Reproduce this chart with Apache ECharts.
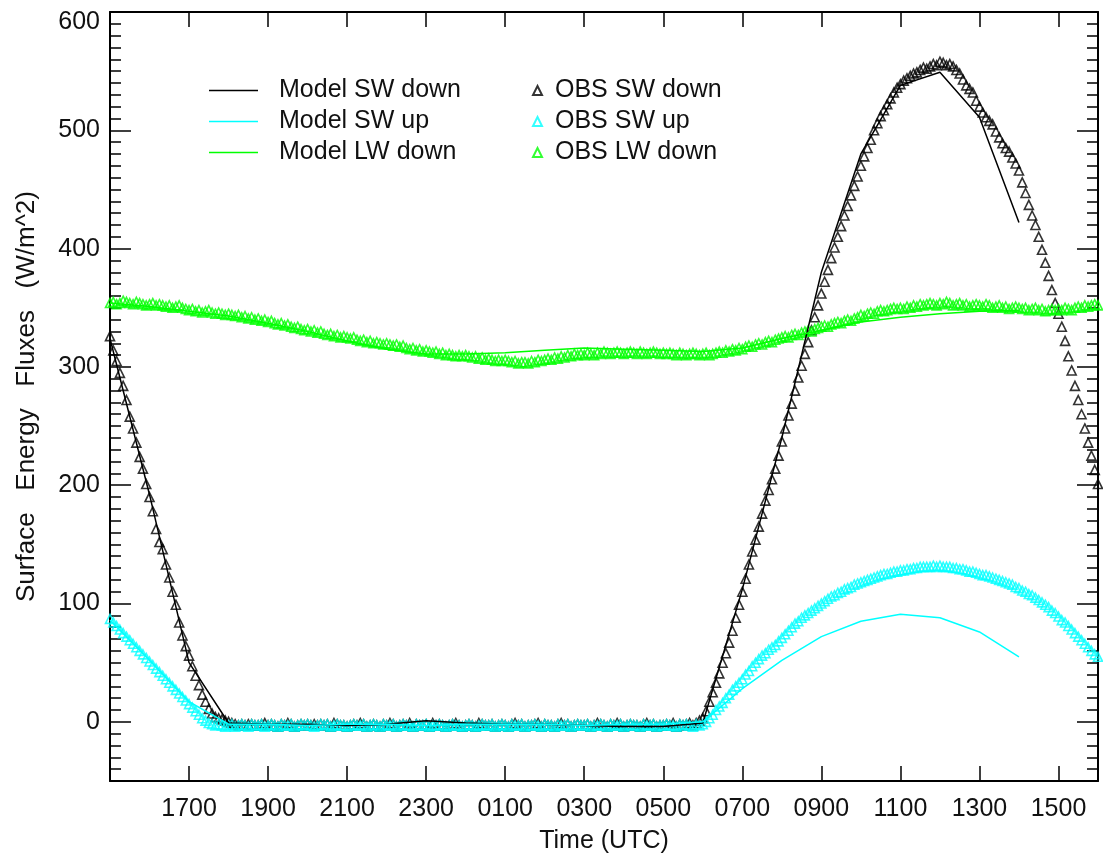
<!DOCTYPE html>
<html><head><meta charset="utf-8">
<script src="https://cdn.jsdelivr.net/npm/echarts@6/dist/echarts.min.js"></script>
<style>html,body{margin:0;padding:0;background:#fff}#c{width:1103px;height:860px}</style>
</head><body><div id="c"></div>
<script>
// x values are hours after 1500 UTC (day 1); axis spans 1500 -> 1600 next day
const OBS_START_HOUR = 0;
const OBS_STEP_MIN = 5;

const obsSwDown = [
 326,314,305,295,284,272,258,248,236,224,214,201,
 190,178,163,152,146,133,122,110,99,84,73,64,
 56,47,39,31,23,17,11,7,4,3,2,1,
 0,-1,-2,-3,-2,-3,-2,-2,-3,-3,-2,-1,
 -3,-2,-3,-4,-2,-3,-1,-2,-4,-3,-2,-3,
 -2,-3,-2,-3,-2,-3,-2,-4,-1,-2,-3,-3,
 -4,-3,-2,-3,-1,-2,-4,-3,-2,-3,-4,-2,
 -3,-1,-2,-4,-3,-2,-3,-1,-4,-2,-3,-3,
 -2,-4,-1,-3,-2,-3,-4,-3,-2,-1,-3,-4,
 -3,-2,-3,-4,-1,-2,-3,-3,-2,-4,-3,-2,
 -3,-4,-2,-1,-3,-2,-4,-3,-3,-2,-1,-4,
 -2,-3,-3,-4,-2,-1,-3,-2,-4,-3,-2,-3,
 -3,-2,-4,-3,-1,-2,-3,-4,-2,-3,-1,-2,
 -4,-3,-2,-3,-3,-4,-2,-1,-3,-2,-4,-3,
 -3,-2,-3,-1,-4,-2,-3,-2,-1,-3,-1,1,
 3,9,17,25,33,41,50,58,67,77,88,99,
 110,121,133,144,154,165,176,187,196,205,214,225,
 237,248,259,269,280,291,301,311,321,331,342,352,
 362,372,382,392,401,410,419,428,436,445,453,461,
 470,478,485,492,500,506,512,517,522,527,532,536,
 539,542,544,546,548,549,551,553,552,554,556,555,
 558,557,555,556,554,551,548,543,538,535,532,525,
 520,515,511,508,505,499,494,489,485,482,477,472,
 466,456,447,437,428,420,410,399,388,377,365,354,
 345,334,322,309,297,284,272,260,248,236,225,213,
 201
];

const obsSwUp = [
 87,84,81,78,75,72,69,66,63,60,57,54,
 51,48,45,42,39,36,33,30,27,24,21,18,
 15,12,9,6,3,1,-1,-2,-3,-2,-3,-4,
 -3,-2,-4,-3,-2,-3,-4,-2,-3,-3,-2,-4,
 -3,-2,-3,-4,-2,-3,-3,-2,-4,-3,-2,-3,
 -2,-3,-4,-3,-2,-3,-2,-4,-3,-2,-3,-3,
 -4,-3,-2,-3,-3,-2,-4,-3,-2,-3,-4,-2,
 -3,-3,-2,-4,-3,-2,-3,-3,-4,-2,-3,-3,
 -2,-4,-3,-3,-2,-3,-4,-3,-2,-3,-3,-4,
 -3,-2,-3,-4,-3,-2,-3,-3,-2,-4,-3,-2,
 -3,-4,-2,-3,-3,-2,-4,-3,-3,-2,-3,-4,
 -2,-3,-3,-4,-2,-3,-3,-2,-4,-3,-2,-3,
 -3,-2,-4,-3,-3,-2,-3,-4,-2,-3,-3,-2,
 -4,-3,-2,-3,-3,-4,-2,-3,-3,-2,-4,-3,
 -3,-2,-3,-3,-4,-2,-3,-2,-3,-4,-2,-3,
 -2,0,3,6,10,13,16,20,23,27,30,33,
 36,40,43,47,50,53,56,58,61,63,65,68,
 71,74,77,80,83,85,88,90,92,94,96,98,
 100,102,104,106,107,109,110,112,113,114,116,117,
 118,119,120,121,122,123,124,125,125,126,127,127,
 128,128,129,129,130,130,131,131,131,131,132,131,
 132,131,131,131,130,130,129,129,128,127,127,126,
 125,124,124,123,122,121,120,119,118,117,116,114,
 113,111,110,108,107,105,103,101,99,97,94,92,
 89,86,84,81,78,75,72,69,66,63,60,57,
 55
];

const obsLwDown = [
 354,355,353,354,356,355,354,353,355,354,353,352,
 353,354,352,353,352,351,352,350,351,352,350,349,
 348,349,347,348,346,347,348,346,345,346,345,344,
 345,344,343,344,342,343,341,342,340,341,339,340,
 338,339,337,336,337,335,336,334,333,334,332,331,
 332,330,331,329,330,328,327,328,326,327,325,326,
 325,324,325,323,322,323,321,322,320,321,320,319,
 320,319,318,319,317,318,316,315,316,314,315,313,
 314,313,312,313,311,312,310,311,310,309,310,309,
 310,309,308,309,307,308,306,307,306,305,306,305,
 306,305,304,305,303,304,304,303,305,304,306,305,
 306,307,306,308,307,309,308,310,309,311,310,311,
 310,312,311,310,312,311,313,312,311,312,313,312,
 311,312,313,312,311,313,312,311,312,313,312,311,
 312,311,312,311,310,312,311,310,311,312,311,310,
 311,312,310,311,312,313,312,314,313,315,314,316,
 315,317,318,317,319,320,319,321,322,321,323,324,
 325,326,325,327,328,327,329,330,331,330,332,333,
 334,335,334,336,337,338,337,339,340,339,341,342,
 344,343,345,346,345,347,348,347,348,349,350,349,
 350,349,351,350,352,351,353,352,353,354,353,352,
 354,353,355,354,352,353,354,352,353,351,352,353,
 352,351,353,352,350,351,352,350,351,349,350,351,
 350,349,350,348,349,350,348,349,347,348,349,348,
 349,348,350,349,348,350,351,350,352,351,352,353,
 352
];

// hourly model output, hours after 1500 UTC (1500 ... 1400 next day)
const modelHours = [0,1,2,3,4,5,6,7,8,9,10,11,12,13,14,15,16,17,18,19,20,21,22,23];
const modelSwDown = [324,192,50,-1,-2,-2,-3,-2,1,-1,-2,-2,-3,-4,-4,-1,112,240,380,480,538,549,511,422];
const modelSwUp   = [86,52,17,-2,-2,-3,-2,-2,-3,-2,-2,-2,-3,-2,-2,0,28,52,72,85,91,88,76,55];
const modelLwDown = [354,351,347,343,337,330,322,315,311,311,312,314,316,315,314,313,316,324,331,338,342,345,347,348];

const yMajorTicks = [0,100,200,300,400,500,600];
const FONT = 'Liberation Sans';

function obsPairs(vals){ return vals.map((v,i)=>[OBS_START_HOUR + i*OBS_STEP_MIN/60, v]); }
function modelPairs(vals){ return vals.map((v,i)=>[modelHours[i], v]); }
function hhmm(v){ const h = (15 + v) % 24; return (h<10?'0':'') + h + '00'; }

const chart = echarts.init(document.getElementById('c'), null, {renderer:'canvas'});
const axLine = {show:true, onZero:false, lineStyle:{color:'#000', width:2}};
const txt = {fontFamily:FONT, fontSize:25, color:'#111'};
const LINE_ICON = 'path://M0,0 H60 V2 H0 Z';

const scatter = (name, vals, color) => ({
  name, type:'scatter', data: obsPairs(vals), symbol:'triangle', symbolSize:9,
  itemStyle:{color:'rgba(0,0,0,0)', borderColor:color, borderWidth:1.6},
  xAxisIndex:0, yAxisIndex:0, silent:true, animation:false
});
const line = (name, vals, color) => ({
  name, type:'line', data: modelPairs(vals), symbol:'none', showSymbol:false,
  lineStyle:{color, width:1.5}, itemStyle:{color},
  xAxisIndex:0, yAxisIndex:0, silent:true, animation:false, z:3
});

chart.setOption({
  animation:false,
  backgroundColor:'#fff',
  grid:{left:110, right:5, top:12, bottom:79, containLabel:false},
  legend:[
    {data:[{name:'Model SW down', icon:LINE_ICON},{name:'Model SW up', icon:LINE_ICON},{name:'Model LW down', icon:LINE_ICON}],
     orient:'vertical', left:209, top:78, padding:0,
     itemWidth:49, itemHeight:14, itemGap:6,
     textStyle:Object.assign({}, txt, {lineHeight:25, padding:[0,0,0,16]})},
    {data:['OBS SW down','OBS SW up','OBS LW down'], orient:'vertical', left:532, top:78, padding:0,
     itemWidth:9, itemHeight:9, itemGap:6,
     textStyle:Object.assign({}, txt, {lineHeight:25, padding:[0,0,0,8]})}
  ],
  xAxis:[
    {type:'value', min:0, max:25, interval:2, position:'bottom',
     axisLine:axLine, axisTick:{show:true, inside:true, length:15, lineStyle:{color:'#000', width:1.5}},
     axisLabel:Object.assign({}, txt, {margin:16, formatter:v => (v===0||v===25)?'':hhmm(v)}),
     splitLine:{show:false},
     name:'Time (UTC)', nameLocation:'middle', nameGap:48, nameTextStyle:txt},
    {type:'value', min:0, max:25, interval:2, position:'top',
     axisLine:axLine, axisTick:{show:true, inside:true, length:15, lineStyle:{color:'#000', width:1.5}},
     axisLabel:{show:false}, splitLine:{show:false}}
  ],
  yAxis:[
    {type:'value', min:-50, max:600, interval:10, position:'left',
     axisLine:axLine, axisTick:{show:true, inside:true, length:11, lineStyle:{color:'#000', width:1.5}},
     axisLabel:Object.assign({}, txt, {customValues:yMajorTicks, margin:10,
        formatter:v => v===600 ? '{t|600}' : String(v),
        rich:{t:{fontFamily:FONT, fontSize:25, color:'#111', padding:[20,0,0,0]}}}),
     splitLine:{show:false},
     name:'Surface   Energy   Fluxes   (W/m^2)', nameLocation:'middle', nameGap:70, nameRotate:90,
     nameTextStyle:Object.assign({}, txt, {fontSize:26})},
    {type:'value', min:-50, max:600, position:'left',
     axisLine:{show:false, onZero:false}, axisTick:{show:true, inside:true, length:21, customValues:yMajorTicks, lineStyle:{color:'#000', width:1.5}},
     axisLabel:{show:false}, splitLine:{show:false}},
    {type:'value', min:-50, max:600, interval:10, position:'right',
     axisLine:axLine, axisTick:{show:true, inside:true, length:11, lineStyle:{color:'#000', width:1.5}},
     axisLabel:{show:false}, splitLine:{show:false}},
    {type:'value', min:-50, max:600, position:'right',
     axisLine:{show:false, onZero:false}, axisTick:{show:true, inside:true, length:21, customValues:yMajorTicks, lineStyle:{color:'#000', width:1.5}},
     axisLabel:{show:false}, splitLine:{show:false}}
  ],
  series:[
    scatter('OBS SW down', obsSwDown, '#000000'),
    scatter('OBS SW up', obsSwUp, '#00ffff'),
    scatter('OBS LW down', obsLwDown, '#00ff00'),
    line('Model SW down', modelSwDown, '#000000'),
    line('Model SW up', modelSwUp, '#00ffff'),
    line('Model LW down', modelLwDown, '#00ff00')
  ]
});
</script></body></html>
